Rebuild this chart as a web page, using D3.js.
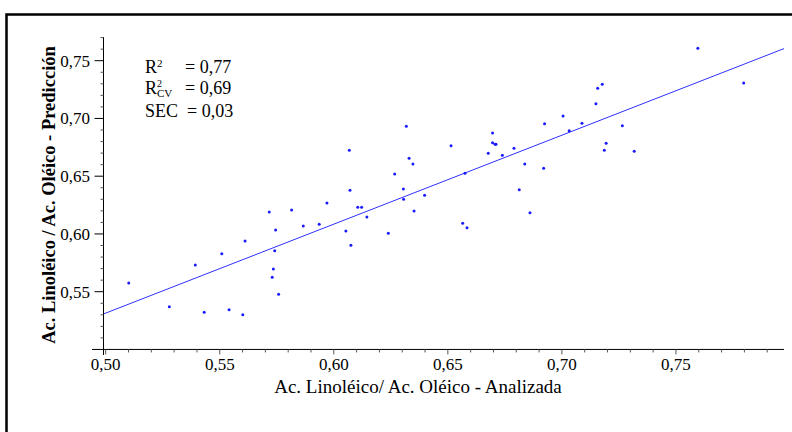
<!DOCTYPE html>
<html>
<head>
<meta charset="utf-8">
<script src="https://cdn.jsdelivr.net/npm/d3@7"></script>
<style>
  body { margin: 0; background: #fff; }
  svg { display: block; font-family: "Liberation Serif", "Times New Roman", serif; }
</style>
</head>
<body>
<div id="chart"></div>
<script>
// Analizada (x) vs Predicción (y)
const analizada = [
  0.5101, 0.5279, 0.5393, 0.5432, 0.5509, 0.5541, 0.5601, 0.5611, 0.5717, 0.5745,
  0.5741, 0.5735, 0.5730, 0.5758, 0.5815, 0.5866, 0.5936, 0.5970, 0.6068, 0.6071,
  0.6053, 0.6075, 0.6105, 0.6122, 0.6145, 0.6239, 0.6267, 0.6305, 0.6306, 0.6318,
  0.6330, 0.6347, 0.6352, 0.6398, 0.6514, 0.6575, 0.6565, 0.6584, 0.7596, 0.7797,
  0.7177, 0.7157, 0.7149, 0.7005, 0.6924, 0.7088, 0.7032, 0.7265, 0.6696, 0.6696,
  0.6707, 0.6711, 0.6677, 0.6739, 0.6790, 0.6837, 0.6920, 0.6813, 0.6860, 0.7194,
  0.7186, 0.7317
];
const prediccion = [
  0.5575, 0.5370, 0.5731, 0.5322, 0.5829, 0.5344, 0.5301, 0.5939, 0.6190, 0.6034,
  0.5855, 0.5697, 0.5625, 0.5477, 0.6207, 0.6069, 0.6084, 0.6268, 0.6724, 0.6378,
  0.6026, 0.5902, 0.6231, 0.6231, 0.6147, 0.6006, 0.6519, 0.6389, 0.6300, 0.6932,
  0.6655, 0.6606, 0.6199, 0.6335, 0.6764, 0.6525, 0.6092, 0.6054, 0.7607, 0.7307,
  0.7296, 0.7261, 0.7128, 0.7021, 0.6955, 0.6958, 0.6894, 0.6937, 0.6874, 0.6790,
  0.6776, 0.6776, 0.6698, 0.6681, 0.6742, 0.6606, 0.6568, 0.6383, 0.6184, 0.6785,
  0.6724, 0.6716
];
// regression line endpoints
const fitX = [0.499, 0.80];
const fitY = [0.5307, 0.7625];

const xTicks = [0.50, 0.55, 0.60, 0.65, 0.70, 0.75];
const yTicks = [0.55, 0.60, 0.65, 0.70, 0.75];
const statLabels = ['R', 'R', 'SEC'];
const statValues = ['0,77', '0,69', '0,03'];

const width = 792, height = 432;
const fmt = d => d3.format('.2f')(d).replace('.', ',');

const svg = d3.select('#chart').append('svg')
  .attr('width', width)
  .attr('height', height);

// outer frame (only top + left are visible)
svg.append('rect')
  .attr('x', 6.5).attr('y', 14.5)
  .attr('width', 900).attr('height', 600)
  .attr('fill', 'none')
  .attr('stroke', '#000')
  .attr('stroke-width', 2.5);

const x = d3.scaleLinear().domain([0.5, 0.8]).range([105.7, 790]);
const y = d3.scaleLinear().domain([0.5, 0.77]).range([349.45, 37.6]);
const clipRight = 784;

svg.append('clipPath').attr('id', 'clip')
  .append('rect').attr('x', 0).attr('y', 0).attr('width', clipRight).attr('height', height);

const plot = svg.append('g').attr('clip-path', 'url(#clip)');

// x axis
const xAxisY = y(0.5);
plot.append('line')
  .attr('x1', 92).attr('x2', clipRight)
  .attr('y1', xAxisY).attr('y2', xAxisY)
  .attr('stroke', '#000').attr('stroke-width', 1);

const xMinor = d3.range(50, 81).map(d => d / 100);
plot.selectAll('.xminor').data(xMinor).enter().append('line')
  .attr('x1', d => x(d)).attr('x2', d => x(d))
  .attr('y1', xAxisY).attr('y2', d => xAxisY + (Math.round(d * 100) % 5 === 0 ? 5 : 3))
  .attr('stroke', '#555').attr('stroke-width', 1);

plot.selectAll('.xlab').data(xTicks).enter().append('text')
  .attr('x', d => x(d))
  .attr('y', 370)
  .attr('text-anchor', 'middle')
  .attr('font-size', 17)
  .text(fmt);

// y axis
const yAxisX = 103.5;
svg.append('line')
  .attr('x1', yAxisX).attr('x2', yAxisX)
  .attr('y1', 37).attr('y2', 355)
  .attr('stroke', '#000').attr('stroke-width', 1);

const yMinor = d3.range(51, 78).map(d => d / 100);
svg.selectAll('.yminor').data(yMinor).enter().append('line')
  .attr('x1', d => yAxisX - (Math.round(d * 100) % 5 === 0 ? 9 : 3)).attr('x2', yAxisX)
  .attr('y1', d => y(d)).attr('y2', d => y(d))
  .attr('stroke', d => Math.round(d * 100) % 5 === 0 ? '#000' : '#555')
  .attr('stroke-width', 1);

svg.selectAll('.ylab').data(yTicks).enter().append('text')
  .attr('x', 90)
  .attr('y', d => y(d))
  .attr('dy', '0.35em')
  .attr('text-anchor', 'end')
  .attr('font-size', 17)
  .text(fmt);

// titles
svg.append('text')
  .attr('x', 418).attr('y', 393)
  .attr('text-anchor', 'middle')
  .attr('font-size', 19)
  .text('Ac. Linoléico/ Ac. Oléico - Analizada');

svg.append('text')
  .attr('transform', 'translate(55,195) rotate(-90)')
  .attr('text-anchor', 'middle')
  .attr('font-size', 18.5)
  .attr('font-weight', 'bold')
  .text('Ac. Linoléico / Ac. Oléico - Predicción');

// fit line
plot.append('line')
  .attr('x1', x(fitX[0])).attr('y1', y(fitY[0]))
  .attr('x2', x(fitX[1])).attr('y2', y(fitY[1]))
  .attr('stroke', '#3030ff').attr('stroke-width', 1);

// points
plot.selectAll('.pt').data(analizada).enter().append('circle')
  .attr('cx', d => x(d))
  .attr('cy', (d, i) => y(prediccion[i]))
  .attr('r', 1.5)
  .attr('fill', '#1a1aff');

// stats box
const stats = svg.append('g').attr('font-size', 18);
const rows = [72.5, 94, 116.5];
stats.append('text').attr('x', 145).attr('y', rows[0])
  .html('R<tspan dy="-6" font-size="11">2</tspan>');
stats.append('text').attr('x', 145).attr('y', rows[1])
  .html('R<tspan dy="-7" font-size="10">2</tspan><tspan dx="-5" dy="10" font-size="11">CV</tspan>');
stats.append('text').attr('x', 145).attr('y', rows[2]).text(statLabels[2]);
statValues.forEach((v, i) => {
  stats.append('text').attr('x', i === 2 ? 187 : 185).attr('y', rows[i]).text('= ' + v);
});
</script>
</body>
</html>
